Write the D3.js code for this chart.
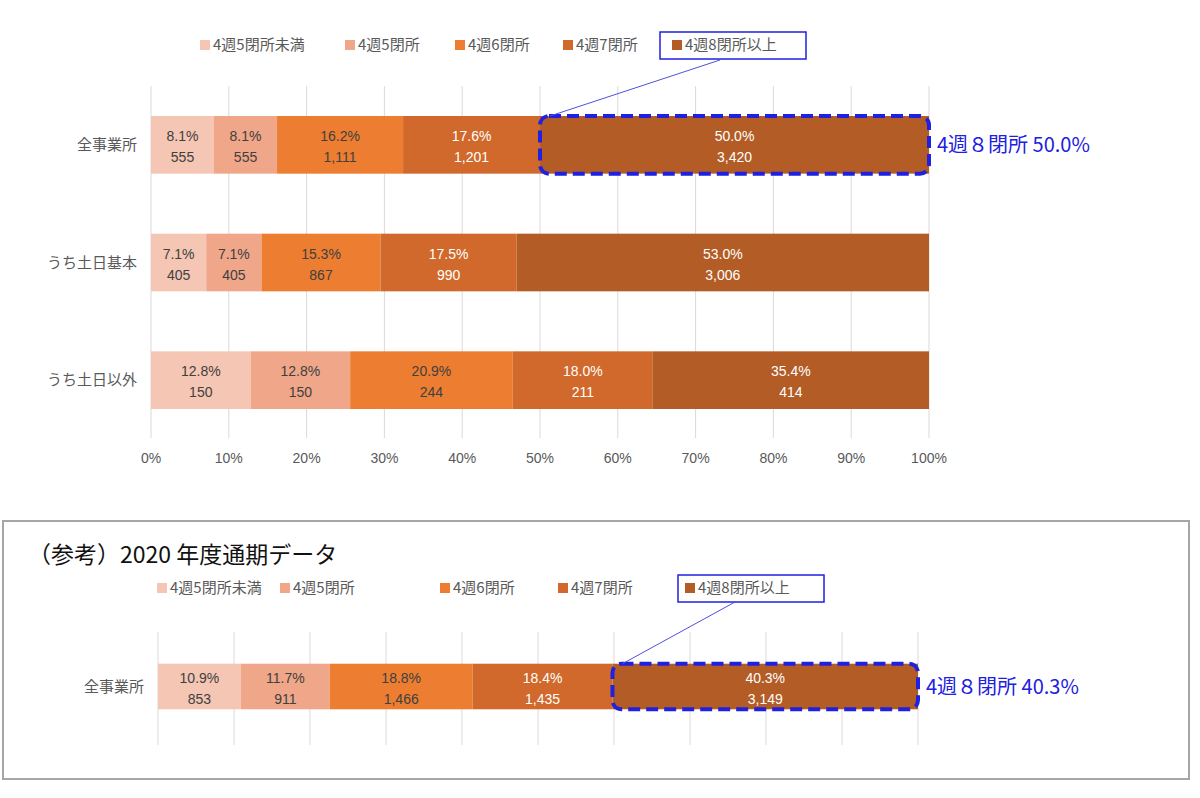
<!DOCTYPE html>
<html><head><meta charset="utf-8">
<script src="https://cdn.jsdelivr.net/npm/d3@7"></script>
<style>body{margin:0;background:#fff;font-family:"Noto Sans CJK JP","Noto Sans",sans-serif}</style>
</head><body>
<script>
const series = ['4週5閉所未満', '4週5閉所', '4週6閉所', '4週7閉所', '4週8閉所以上']
const colors = ['#f4c6b3', '#f0a688', '#ed7d31', '#d0692b', '#b35c25']
const textColors = ['#404040', '#404040', '#404040', '#fff', '#fff']
const categories = ['全事業所', 'うち土日基本', 'うち土日以外']
const pcts = [[8.1, 8.1, 16.2, 17.6, 50.0], [7.1, 7.1, 15.3, 17.5, 53.0], [12.8, 12.8, 20.9, 18.0, 35.4]]
const counts = [[555, 555, 1111, 1201, 3420], [405, 405, 867, 990, 3006], [150, 150, 244, 211, 414]]
const refCategories = ['全事業所']
const refPcts = [[10.9, 11.7, 18.8, 18.4, 40.3]]
const refCounts = [[853, 911, 1466, 1435, 3149]]
const ticks = [0, 10, 20, 30, 40, 50, 60, 70, 80, 90, 100]
const blue = '#2020e0'

const svg = d3.select('body').append('svg').attr('width', 1200).attr('height', 798)

function legend(g, xs, y, boxX, boxW) {
    series.forEach((s, i) => {
        g.append('rect').attr('x', xs[i]).attr('y', y - 6).attr('width', 10).attr('height', 10).attr('fill', colors[i])
        g.append('text').attr('x', xs[i] + 13).attr('y', y + 4).attr('font-size', 15).attr('fill', '#595959').text(s)
    })
    g.append('rect').attr('x', boxX).attr('y', y - 14).attr('width', boxW).attr('height', 27)
        .attr('fill', 'none').attr('stroke', blue).attr('stroke-width', 1.5)
}

function chart(g, cats, P, C, x0, x1, y0, y1, gridTop, gridBot, showAxis, note) {
    const x = d3.scaleLinear().domain([0, 100]).range([x0, x1])
    const y = d3.scaleBand().domain(cats).range([y0, y1]).paddingInner(0.51)
    g.selectAll('.grid').data(ticks).enter().append('line')
        .attr('x1', d => x(d)).attr('x2', d => x(d)).attr('y1', gridTop).attr('y2', gridBot)
        .attr('stroke', '#d9d9d9')
    if (showAxis) {
        g.selectAll('.tick').data(ticks).enter().append('text')
            .attr('x', d => x(d)).attr('y', gridBot + 25).attr('text-anchor', 'middle')
            .attr('font-size', 14).attr('fill', '#595959').attr('font-family', 'Liberation Sans, sans-serif').text(d => d + '%')
    }
    cats.forEach((c, r) => {
        g.append('text').attr('x', x0 - 14).attr('y', y(c) + y.bandwidth() / 2 + 5).attr('text-anchor', 'end')
            .attr('font-size', 15).attr('fill', '#595959').text(c)
        let acc = 0
        P[r].forEach((p, i) => {
            const xa = x(acc), xb = x(i === 4 ? 100 : acc + p)
            acc += p
            g.append('rect').attr('x', xa).attr('y', y(c)).attr('width', xb - xa).attr('height', y.bandwidth()).attr('fill', colors[i])
            const cx = (xa + xb) / 2, cy = y(c) + y.bandwidth() / 2
            g.append('text').attr('x', cx).attr('y', cy - 4).attr('text-anchor', 'middle').attr('font-size', 14)
                .attr('fill', textColors[i]).attr('font-family', 'Liberation Sans, sans-serif').text(p.toFixed(1) + '%')
            g.append('text').attr('x', cx).attr('y', cy + 17).attr('text-anchor', 'middle').attr('font-size', 14)
                .attr('fill', textColors[i]).attr('font-family', 'Liberation Sans, sans-serif').text(d3.format(',')(C[r][i]))
            if (r === 0 && i === 4) {
                g.append('rect').attr('x', xa).attr('y', y(c)).attr('width', xb - xa).attr('height', y.bandwidth())
                    .attr('rx', 9).attr('fill', 'none').attr('stroke', blue).attr('stroke-width', 4).attr('stroke-dasharray', '12,6')
                g.append('line').attr('x1', xa + 10).attr('y1', y(c)).attr('x2', note.lx).attr('y2', note.ly)
                    .attr('stroke', '#5050e0').attr('stroke-width', 1)
                g.append('text').attr('x', xb + 8).attr('y', cy + 7).attr('font-size', 20).attr('fill', blue)
                    .text('4週８閉所 ' + p.toFixed(1) + '%')
            }
        })
    })
}

const topPanel = svg.append('g')
legend(topPanel, [200, 345, 455, 563, 672], 46, 660, 146)
chart(topPanel, categories, pcts, counts, 151, 929, 116, 409, 86, 438, true, { lx: 720, ly: 60 })

const botPanel = svg.append('g')
botPanel.append('rect').attr('x', 3).attr('y', 521).attr('width', 1186).attr('height', 258)
    .attr('fill', 'none').attr('stroke', '#a6a6a6').attr('stroke-width', 2)
botPanel.append('text').attr('x', 28).attr('y', 563).attr('font-size', 23).attr('fill', '#111').text('（参考）2020 年度通期データ')
legend(botPanel, [157, 280, 440, 558, 685], 589, 678, 146)
chart(botPanel, refCategories, refPcts, refCounts, 158, 918, 640, 733, 632, 745, false, { lx: 735, ly: 602 })
</script>
</body></html>
